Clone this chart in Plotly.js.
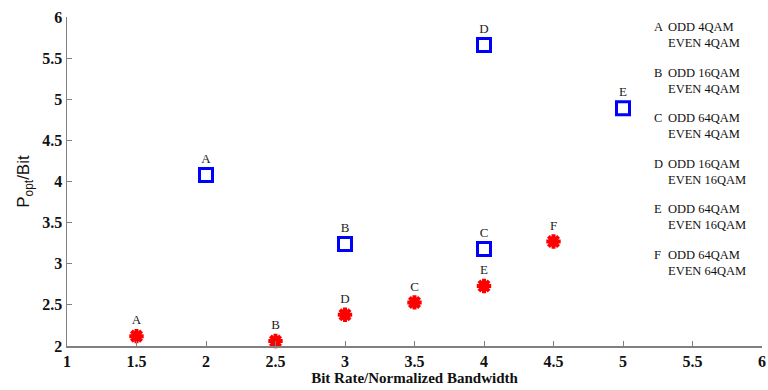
<!DOCTYPE html>
<html>
<head>
<meta charset="utf-8">
<script src="https://cdn.plot.ly/plotly-3.0.1.min.js"></script>
<style>html,body{margin:0;padding:0;background:#fff}#chart{width:768px;height:390px}</style>
</head>
<body>
<div id="chart"></div>
<script>
// Blue squares
var blueX = [2, 3, 4, 4, 5];
var blueY = [4.08, 3.24, 3.18, 5.66, 4.89];
var blueLabels = ['A', 'B', 'C', 'D', 'E'];
// Red asterisks
var redX = [1.5, 2.5, 3, 3.5, 4, 4.5];
var redY = [2.12, 2.06, 2.38, 2.53, 2.73, 3.27];
var redLabels = ['A', 'B', 'D', 'C', 'E', 'F'];
// Legend text
var legendLetters = ['A', 'B', 'C', 'D', 'E', 'F'];
var legendOdd = ['ODD 4QAM', 'ODD 16QAM', 'ODD 64QAM', 'ODD 16QAM', 'ODD 64QAM', 'ODD 64QAM'];
var legendEven = ['EVEN 4QAM', 'EVEN 4QAM', 'EVEN 4QAM', 'EVEN 16QAM', 'EVEN 16QAM', 'EVEN 64QAM'];
var xTicks = [1, 1.5, 2, 2.5, 3, 3.5, 4, 4.5, 5, 5.5, 6];
var yTicks = [2, 2.5, 3, 3.5, 4, 4.5, 5, 5.5, 6];

var serif = 'Liberation Serif, Times New Roman, serif';

var traces = [
  {
    x: blueX, y: blueY, text: blueLabels, mode: 'markers+text', type: 'scatter',
    textposition: 'top center',
    textfont: {family: serif, size: 13, color: '#222'},
    marker: {symbol: 'square-open', size: 13, color: '#0000ff', line: {width: 3, color: '#0000ff'}},
    cliponaxis: false, showlegend: false
  },
  {
    x: redX, y: redY, text: redLabels, mode: 'markers+text', type: 'scatter',
    textposition: 'top center',
    textfont: {family: serif, size: 13, color: '#222'},
    marker: {symbol: 'asterisk-open', size: 12, color: '#ff0000', line: {width: 4, color: '#ff0000'}},
    cliponaxis: false, showlegend: false
  }
];

var annotations = [];
var topPx = 27, step = 45.6, plotTop = 17, plotH = 329;
for (var i = 0; i < legendLetters.length; i++) {
  var yPx = topPx + i * step;
  var yPaper = 1 - (yPx - plotTop) / plotH;
  annotations.push({
    xref: 'paper', yref: 'paper', x: (652 - 67) / 695, y: yPaper,
    xanchor: 'left', yanchor: 'middle', showarrow: false,
    text: legendLetters[i], font: {family: serif, size: 12.5, color: '#111'}
  });
  annotations.push({
    xref: 'paper', yref: 'paper', x: (666 - 67) / 695, y: yPaper,
    xanchor: 'left', yanchor: 'top', yshift: 9, showarrow: false, align: 'left',
    text: legendOdd[i] + '<br>' + legendEven[i],
    font: {family: serif, size: 12.5, color: '#111'}
  });
}

var layout = {
  width: 768, height: 390,
  margin: {l: 67, r: 6, t: 17, b: 44},
  paper_bgcolor: '#fff', plot_bgcolor: '#fff',
  xaxis: {
    range: [1, 6], tickvals: xTicks, ticktext: xTicks.map(String),
    showgrid: false, zeroline: false, showline: true, linecolor: '#808080', linewidth: 1.5,
    ticks: 'inside', ticklen: 5, tickcolor: '#808080',
    tickfont: {family: serif, size: 16, color: '#111', weight: 'bold'},
    title: {text: 'Bit Rate/Normalized Bandwidth', standoff: 2,
      font: {family: serif, size: 15, color: '#111', weight: 'bold'}}
  },
  yaxis: {
    range: [2, 6], tickvals: yTicks, ticktext: yTicks.map(String),
    showgrid: false, zeroline: false, showline: true, linecolor: '#808080', linewidth: 1.5,
    ticks: 'inside', ticklen: 5, tickcolor: '#808080',
    tickfont: {family: serif, size: 16, color: '#111', weight: 'bold'},
    title: {text: 'P<sub>opt</sub>/Bit', standoff: 8,
      font: {family: 'Liberation Sans, Arial, sans-serif', size: 17, color: '#111'}}
  },
  annotations: annotations,
  showlegend: false
};

Plotly.newPlot('chart', traces, layout, {displayModeBar: false, staticPlot: true});
</script>
</body>
</html>
